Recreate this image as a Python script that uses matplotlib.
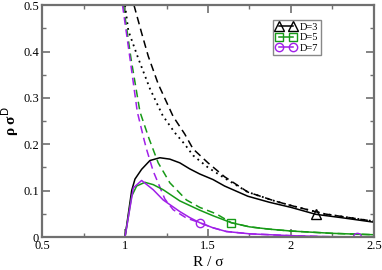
import matplotlib
matplotlib.use('Agg')
import matplotlib.pyplot as plt

# values

# solid curves (rho sigma^D vs R/sigma)
R3 = [0.5, 1.0, 1.04, 1.06, 1.10, 1.15, 1.21, 1.27, 1.33, 1.39, 1.45, 1.53, 1.60, 1.74, 1.87, 2.0, 2.15, 2.3, 2.5]
rho3 = [0.0, 0.0, 0.100, 0.125, 0.146, 0.165, 0.171, 0.168, 0.160, 0.147, 0.136, 0.124, 0.110, 0.088, 0.075, 0.064, 0.049, 0.042, 0.032]

R5 = [0.5, 1.0, 1.04, 1.07, 1.12, 1.17, 1.23, 1.33, 1.39, 1.45, 1.53, 1.64, 1.75, 1.87, 2.0, 2.25, 2.5]
rho5 = [0.0, 0.0, 0.088, 0.110, 0.118, 0.113, 0.102, 0.078, 0.068, 0.058, 0.046, 0.031, 0.022, 0.017, 0.013, 0.008, 0.005]

R7 = [0.5, 1.0, 1.05, 1.10, 1.17, 1.23, 1.33, 1.39, 1.45, 1.53, 1.61, 1.75, 2.0, 2.2, 2.4, 2.5]
rho7 = [0.0, 0.0, 0.106, 0.122, 0.102, 0.080, 0.055, 0.042, 0.031, 0.020, 0.012, 0.007, 0.003, 0.001, 0.0, 0.0]

# dashed curves
Rd3 = [1.054, 1.10, 1.14, 1.20, 1.29, 1.36, 1.41, 1.5, 1.6, 1.74, 1.9, 2.0, 2.2, 2.5]
rhod3 = [0.5, 0.44, 0.39, 0.33, 0.26, 0.222, 0.19, 0.16, 0.13, 0.097, 0.078, 0.068, 0.050, 0.034]

Rd5 = [0.99, 1.036, 1.09, 1.146, 1.20, 1.27, 1.37, 1.45, 1.55, 1.64, 1.75, 1.87, 2.0, 2.25, 2.5]
rhod5 = [0.5, 0.385, 0.27, 0.211, 0.160, 0.117, 0.080, 0.064, 0.050, 0.031, 0.022, 0.017, 0.013, 0.008, 0.005]

Rd7 = [0.985, 1.03, 1.074, 1.114, 1.13, 1.17, 1.24, 1.29, 1.37, 1.45, 1.53, 1.61, 1.75, 2.0, 2.2, 2.5]
rhod7 = [0.5, 0.385, 0.27, 0.211, 0.189, 0.142, 0.082, 0.059, 0.041, 0.031, 0.020, 0.012, 0.007, 0.003, 0.001, 0.0]

# dotted curve
Rdot = [1.0, 1.02, 1.08, 1.15, 1.227, 1.30, 1.36, 1.41, 1.5, 1.6, 1.74, 1.9, 2.0, 2.2, 2.5]
rhodot = [0.5, 0.445, 0.385, 0.32, 0.262, 0.225, 0.200, 0.176, 0.150, 0.127, 0.097, 0.078, 0.068, 0.050, 0.034]

green = '#179a17'
purple = '#a020e8'
frame = '#707070'

plt.rcParams['font.family'] = ['Liberation Serif', 'DejaVu Serif']

fig = plt.figure(figsize=(3.82, 2.70), dpi=100)
ax = fig.add_axes([0.110, 0.122, 0.869, 0.859])

ax.plot(Rd3, rhod3, color='black', lw=1.1, dashes=(5, 3))
ax.plot(Rdot, rhodot, color='black', lw=1.3, dashes=(1, 2.2))
ax.plot(Rd5, rhod5, color=green, lw=1.1, dashes=(5, 3))
ax.plot(Rd7, rhod7, color=purple, lw=1.1, dashes=(5, 3))

ax.plot(R3, rho3, color='black', lw=1.1, marker='^', ms=6.5, mfc='none', mew=1.0,
        markevery=[R3.index(2.15)], label='D=3')
ax.plot(R5, rho5, color=green, lw=1.1, marker='s', ms=5.2, mfc='none', mew=1.0,
        markevery=[R5.index(1.64)], label='D=5')
ax.plot(R7, rho7, color=purple, lw=1.1, marker='o', ms=6.0, mfc='none', mew=1.0,
        markevery=[R7.index(1.45), R7.index(2.4)], label='D=7')

ax.set_xlim(0.5, 2.5)
ax.set_ylim(0, 0.5)
ax.set_xticks([0.5, 1, 1.5, 2, 2.5])
ax.set_xticklabels(['0.5', '1', '1.5', '2', '2.5'])
ax.set_xticks([0.75, 1.25, 1.75, 2.25], minor=True)
ax.set_yticks([0, 0.1, 0.2, 0.3, 0.4, 0.5])
ax.set_yticklabels(['0', '0.1', '0.2', '0.3', '0.4', '0.5'])
ax.set_yticks([0.05, 0.15, 0.25, 0.35, 0.45], minor=True)

ax.tick_params(which='both', direction='in', top=True, right=True, color=frame,
               labelsize=9, pad=2)
ax.tick_params(which='major', length=6, width=1.2)
ax.tick_params(which='minor', length=3, width=1.0)
for s in ax.spines.values():
    s.set_color(frame)
    s.set_linewidth(1.6)

ax.set_xlabel('R / σ', fontsize=11, labelpad=3)
ax.set_ylabel('ρ σ$^{\\mathrm{D}}$', fontsize=11, fontweight='bold', labelpad=2)

leg = ax.legend(loc='upper left', bbox_to_anchor=(0.696, 0.935), numpoints=2,
                fontsize=7.5, handlelength=2.0, handletextpad=0.3, borderpad=0.25,
                labelspacing=0.1, fancybox=False, framealpha=1, borderaxespad=0)
leg.get_frame().set_edgecolor('#888888')
leg.get_frame().set_linewidth(1.0)

fig.savefig('out.png', dpi=100)
